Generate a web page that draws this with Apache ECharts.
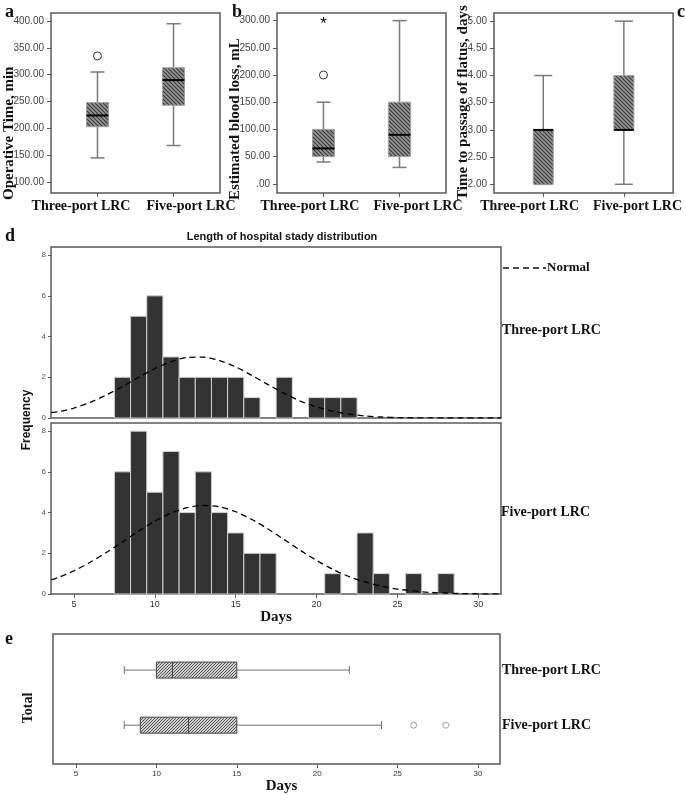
<!DOCTYPE html>
<html><head><meta charset="utf-8">
<script src="https://cdn.jsdelivr.net/npm/echarts@6/dist/echarts.min.js"></script>
<style>html,body{margin:0;padding:0;background:#fff}#c{width:685px;height:795px}</style>
</head><body><div id="c"></div>
<script>
// ---------------- DATA ----------------
const groups = ['Three-port LRC', 'Five-port LRC'];
// box stats: [min, Q1, median, Q3, max]
const opTimeBox = [[145, 203, 224, 248, 305], [168, 243, 290, 313, 395]];
const opTimeOutliers = [[0, 335]];            // [group index, value] circles
const bloodBox = [[40, 50, 65, 100, 150], [30, 50, 90, 150, 300]];
const bloodOutliers = [[0, 200]];
const bloodExtremes = [[0, 300]];             // asterisk
const flatusBox = [[2, 2, 3, 3, 4], [2, 3, 3, 4, 5]];
const opTimeTicks = [100, 150, 200, 250, 300, 350, 400];
const bloodTicks = [0, 50, 100, 150, 200, 250, 300];
const flatusTicks = [2, 2.5, 3, 3.5, 4, 4.5, 5];

const days = [8, 9, 10, 11, 12, 13, 14, 15, 16, 17, 18, 19, 20, 21, 22, 23, 24, 25, 26, 27, 28];
const threeCounts = [2, 5, 6, 3, 2, 2, 2, 2, 1, 0, 2, 0, 1, 1, 1, 0, 0, 0, 0, 0, 0];
const fiveCounts  = [6, 8, 5, 7, 4, 6, 4, 3, 2, 2, 0, 0, 0, 1, 0, 3, 1, 0, 1, 0, 1];
const normalX = [3.6, 4, 5, 6, 7, 8, 9, 10, 11, 12, 13, 14, 15, 16, 17, 18, 19, 20, 21, 22, 23, 24, 25, 26, 27, 28, 29, 30, 31, 31.4];
const threeNormal = [0.26, 0.30, 0.49, 0.77, 1.13, 1.55, 2.00, 2.43, 2.77, 2.97, 2.99, 2.82, 2.51, 2.09, 1.64, 1.21, 0.83, 0.54, 0.33, 0.19, 0.10, 0.05, 0.02, 0.01, 0.005, 0, 0, 0, 0, 0];
const fiveNormal  = [0.69, 0.80, 1.14, 1.56, 2.04, 2.56, 3.09, 3.58, 3.98, 4.24, 4.35, 4.28, 4.04, 3.66, 3.19, 2.67, 2.14, 1.65, 1.21, 0.86, 0.59, 0.39, 0.24, 0.15, 0.08, 0.045, 0.02, 0.01, 0.005, 0.004];
const dayTicks = [5, 10, 15, 20, 25, 30];
const freqTicks = [0, 2, 4, 6, 8];

const losBox = [[8, 10, 11, 15, 22], [8, 9, 12, 15, 24]];
const losOutliers = [[1, 26], [1, 28]];       // [group index, value]

// ---------------- LAYOUT CONSTANTS ----------------
const catPos = [0.55, 1.45];
const labelPosA = [0.355, 1.657], labelPosB = [0.39, 1.669], labelPosC = [0.398, 1.602];
const SERIF = '"Liberation Serif", "Times New Roman", serif';
const SANS = '"Liberation Sans", Arial, sans-serif';

function makePattern(size, bg, fg, lw, dir) {
  const cv = document.createElement('canvas');
  cv.width = size; cv.height = size;
  const g = cv.getContext('2d');
  g.fillStyle = bg; g.fillRect(0, 0, size, size);
  g.strokeStyle = fg; g.lineWidth = lw;
  g.beginPath();
  for (let k = -1; k <= 1; k++) {
    if (dir === 'back') { g.moveTo(k * size - 1, -1); g.lineTo(k * size + size + 1, size + 1); }
    else { g.moveTo(k * size - 1, size + 1); g.lineTo(k * size + size + 1, -1); }
  }
  g.stroke();
  return { image: cv, repeat: 'repeat' };
}
const patABC = makePattern(4, '#959595', '#383838', 1.1, 'back');
const patE = makePattern(3, '#cfcfcf', '#4a4a4a', 0.9, 'fwd');

function vBox(halfW, capHalf) {
  return function (params, api) {
    const x = api.value(0);
    const p = i => api.coord([x, api.value(i)]);
    const mn = p(1), q1 = p(2), md = p(3), q3 = p(4), mx = p(5);
    const cx = mn[0];
    const ws = { stroke: '#7a7a7a', lineWidth: 1.5 };
    return { type: 'group', children: [
      { type: 'line', shape: { x1: cx, y1: mx[1], x2: cx, y2: q3[1] }, style: ws },
      { type: 'line', shape: { x1: cx, y1: q1[1], x2: cx, y2: mn[1] }, style: ws },
      { type: 'line', shape: { x1: cx - capHalf, y1: mx[1], x2: cx + capHalf, y2: mx[1] }, style: ws },
      { type: 'line', shape: { x1: cx - capHalf, y1: mn[1], x2: cx + capHalf, y2: mn[1] }, style: ws },
      { type: 'rect', shape: { x: cx - halfW, y: q3[1], width: 2 * halfW, height: q1[1] - q3[1] }, style: { fill: patABC, stroke: '#a0a0a0', lineWidth: 1 } },
      { type: 'line', shape: { x1: cx - halfW, y1: md[1], x2: cx + halfW, y2: md[1] }, style: { stroke: '#000', lineWidth: 2 } }
    ] };
  };
}
function hBox(halfH, capHalf) {
  return function (params, api) {
    const y = api.value(0);
    const p = i => api.coord([api.value(i), y]);
    const mn = p(1), q1 = p(2), md = p(3), q3 = p(4), mx = p(5);
    const cy = mn[1];
    const ws = { stroke: '#707070', lineWidth: 1 };
    return { type: 'group', children: [
      { type: 'line', shape: { x1: mn[0], y1: cy, x2: q1[0], y2: cy }, style: ws },
      { type: 'line', shape: { x1: q3[0], y1: cy, x2: mx[0], y2: cy }, style: ws },
      { type: 'line', shape: { x1: mn[0], y1: cy - capHalf, x2: mn[0], y2: cy + capHalf }, style: ws },
      { type: 'line', shape: { x1: mx[0], y1: cy - capHalf, x2: mx[0], y2: cy + capHalf }, style: ws },
      { type: 'rect', shape: { x: q1[0], y: cy - halfH, width: q3[0] - q1[0], height: 2 * halfH }, style: { fill: patE, stroke: '#444', lineWidth: 1 } },
      { type: 'line', shape: { x1: md[0], y1: cy - halfH, x2: md[0], y2: cy + halfH }, style: { stroke: '#444', lineWidth: 1 } }
    ] };
  };
}
function histBar(params, api) {
  const d = api.value(0), c = api.value(1);
  if (!c) return;
  const p1 = api.coord([d - 0.5, c]), p2 = api.coord([d + 0.5, 0]);
  return { type: 'rect', shape: { x: p1[0], y: p1[1], width: p2[0] - p1[0], height: p2[1] - p1[1] }, style: { fill: '#333', stroke: '#d0d0d0', lineWidth: 1 } };
}
function asterisk(params, api) {
  const p = api.coord([api.value(0), api.value(1)]);
  return { type: 'text', x: p[0], y: p[1] + 4, style: { text: '*', fontSize: 17, fontFamily: SANS, fill: '#000', align: 'center', verticalAlign: 'middle' } };
}

const boxData = arr => arr.map((b, i) => [catPos[i], ...b]);
const ptData = arr => arr.map(o => [catPos[o[0]], o[1]]);
const noLine = { show: false, onZero: false };

function catXAxis(gi, labelPos) {
  return { type: 'value', gridIndex: gi, min: 0, max: 2, splitLine: { show: false }, axisLine: noLine,
    axisTick: { show: true, customValues: catPos, length: 4, lineStyle: { color: '#555', width: 1 } },
    axisLabel: { customValues: labelPos, margin: 6, fontFamily: SERIF, fontWeight: 'bold', fontSize: 14, color: '#111',
      formatter: v => v < 1 ? groups[0] : groups[1] } };
}
function valYAxis(gi, min, max, ticks, fmt) {
  return { type: 'value', gridIndex: gi, min: min, max: max, splitLine: { show: false }, axisLine: noLine,
    axisTick: { show: true, customValues: ticks, length: 4, lineStyle: { color: '#555', width: 1 } },
    axisLabel: { customValues: ticks, margin: 7, fontFamily: SANS, fontSize: 10, color: '#444', formatter: fmt } };
}
const frame = { show: true, borderColor: '#5a5a5a', borderWidth: 1.5, backgroundColor: 'transparent' };

const option = {
  animation: false,
  backgroundColor: '#fff',
  grid: [
    Object.assign({ left: 51, top: 13, width: 169, height: 180 }, frame),
    Object.assign({ left: 277, top: 13, width: 169, height: 180 }, frame),
    Object.assign({ left: 494, top: 13, width: 181, height: 180 }, frame),
    Object.assign({ left: 51, top: 247, width: 450, height: 171 }, frame),
    Object.assign({ left: 51, top: 423, width: 450, height: 171 }, frame),
    Object.assign({ left: 53, top: 634, width: 447, height: 137 }, frame)
  ],
  xAxis: [
    catXAxis(0, labelPosA), catXAxis(1, labelPosB), catXAxis(2, labelPosC),
    { type: 'value', gridIndex: 3, min: 3.58, max: 31.4, splitLine: { show: false }, axisLine: noLine, axisTick: { show: false }, axisLabel: { show: false } },
    { type: 'value', gridIndex: 4, min: 3.58, max: 31.4, splitLine: { show: false }, axisLine: noLine,
      axisTick: { show: true, customValues: dayTicks, length: 4, lineStyle: { color: '#555' } },
      axisLabel: { customValues: dayTicks, margin: 6, fontFamily: SANS, fontSize: 9, color: '#333' },
      name: 'Days', nameLocation: 'middle', nameGap: 10, nameTextStyle: { fontFamily: SERIF, fontWeight: 'bold', fontSize: 15, color: '#111' } },
    { type: 'value', gridIndex: 5, min: 3.57, max: 31.37, splitLine: { show: false }, axisLine: noLine,
      axisTick: { show: true, customValues: dayTicks, length: 4, lineStyle: { color: '#555' } },
      axisLabel: { customValues: dayTicks, margin: 6, fontFamily: SANS, fontSize: 8, color: '#333' },
      name: 'Days', nameLocation: 'middle', nameGap: 9, nameTextStyle: { fontFamily: SERIF, fontWeight: 'bold', fontSize: 15, color: '#111', padding: [0, 0, 0, 10] } }
  ],
  yAxis: [
    valYAxis(0, 79.5, 415, opTimeTicks, v => v.toFixed(2)),
    valYAxis(1, -17, 314, bloodTicks, v => v === 0 ? '.00' : v.toFixed(2)),
    valYAxis(2, 1.84, 5.15, flatusTicks, v => v.toFixed(2)),
    { type: 'value', gridIndex: 3, min: 0, max: 8.4, splitLine: { show: false }, axisLine: noLine,
      axisTick: { show: true, customValues: freqTicks, length: 3, lineStyle: { color: '#555' } },
      axisLabel: { customValues: freqTicks, margin: 5, fontFamily: SANS, fontSize: 8, color: '#555' } },
    { type: 'value', gridIndex: 4, min: 0, max: 8.4, splitLine: { show: false }, axisLine: noLine,
      axisTick: { show: true, customValues: freqTicks, length: 3, lineStyle: { color: '#555' } },
      axisLabel: { customValues: freqTicks, margin: 5, fontFamily: SANS, fontSize: 8, color: '#555' } },
    { type: 'value', gridIndex: 5, position: 'right', inverse: true, min: -0.655, max: 1.707, splitLine: { show: false }, axisLine: noLine,
      axisTick: { show: false },
      axisLabel: { customValues: [0, 1], margin: 2, fontFamily: SERIF, fontWeight: 'bold', fontSize: 14, color: '#111', formatter: v => groups[Math.round(v)] } }
  ],
  series: [
    { type: 'custom', xAxisIndex: 0, yAxisIndex: 0, renderItem: vBox(11, 7), data: boxData(opTimeBox), encode: { x: 0, y: [1, 2, 3, 4, 5] } },
    { type: 'scatter', xAxisIndex: 0, yAxisIndex: 0, symbol: 'circle', symbolSize: 8, itemStyle: { color: '#fff', borderColor: '#000', borderWidth: 1 }, data: ptData(opTimeOutliers) },
    { type: 'custom', xAxisIndex: 1, yAxisIndex: 1, renderItem: vBox(11, 7), data: boxData(bloodBox), encode: { x: 0, y: [1, 2, 3, 4, 5] } },
    { type: 'scatter', xAxisIndex: 1, yAxisIndex: 1, symbol: 'circle', symbolSize: 8, itemStyle: { color: '#fff', borderColor: '#000', borderWidth: 1 }, data: ptData(bloodOutliers) },
    { type: 'custom', xAxisIndex: 1, yAxisIndex: 1, renderItem: asterisk, data: ptData(bloodExtremes) },
    { type: 'custom', xAxisIndex: 2, yAxisIndex: 2, renderItem: vBox(10, 9), data: boxData(flatusBox), encode: { x: 0, y: [1, 2, 3, 4, 5] } },
    { type: 'custom', xAxisIndex: 3, yAxisIndex: 3, renderItem: histBar, data: days.map((d, i) => [d, threeCounts[i]]), encode: { x: 0, y: 1 } },
    { type: 'line', xAxisIndex: 3, yAxisIndex: 3, symbol: 'none', smooth: 0.3, z: 5, lineStyle: { color: '#000', width: 1.3, type: [6, 4] }, data: normalX.map((x, i) => [x, threeNormal[i]]) },
    { type: 'custom', xAxisIndex: 4, yAxisIndex: 4, renderItem: histBar, data: days.map((d, i) => [d, fiveCounts[i]]), encode: { x: 0, y: 1 } },
    { type: 'line', xAxisIndex: 4, yAxisIndex: 4, symbol: 'none', smooth: 0.3, z: 5, lineStyle: { color: '#000', width: 1.3, type: [6, 4] }, data: normalX.map((x, i) => [x, fiveNormal[i]]) },
    { type: 'custom', xAxisIndex: 5, yAxisIndex: 5, renderItem: hBox(8, 4), data: losBox.map((b, i) => [i, ...b]), encode: { x: [1, 2, 3, 4, 5], y: 0 } },
    { type: 'scatter', xAxisIndex: 5, yAxisIndex: 5, symbol: 'circle', symbolSize: 6, itemStyle: { color: '#fff', borderColor: '#888', borderWidth: 1 }, data: losOutliers.map(o => [o[1], o[0]]) }
  ],
  graphic: [
    { type: 'text', left: 5, top: 3, style: { text: 'a', font: 'bold 18px ' + SERIF, fill: '#111' } },
    { type: 'text', left: 232, top: 3, style: { text: 'b', font: 'bold 18px ' + SERIF, fill: '#111' } },
    { type: 'text', left: 677, top: 3, style: { text: 'c', font: 'bold 18px ' + SERIF, fill: '#111' } },
    { type: 'text', left: 5, top: 227, style: { text: 'd', font: 'bold 18px ' + SERIF, fill: '#111' } },
    { type: 'text', left: 5, top: 630, style: { text: 'e', font: 'bold 18px ' + SERIF, fill: '#111' } },
    { type: 'text', x: 9, y: 200, rotation: Math.PI / 2, style: { text: 'Operative Time, min', font: 'bold 15px ' + SERIF, fill: '#111', align: 'left', verticalAlign: 'middle' } },
    { type: 'text', x: 235, y: 200, rotation: Math.PI / 2, style: { text: 'Estimated blood loss, mL', font: 'bold 15px ' + SERIF, fill: '#111', align: 'left', verticalAlign: 'middle' } },
    { type: 'text', x: 463, y: 200, rotation: Math.PI / 2, style: { text: 'Time to passage of flatus, days', font: 'bold 15px ' + SERIF, fill: '#111', align: 'left', verticalAlign: 'middle' } },
    { type: 'text', x: 282, y: 237, style: { text: 'Length of hospital stady distribution', font: 'bold 11px ' + SANS, fill: '#111', align: 'center', verticalAlign: 'middle' } },
    { type: 'text', x: 27, y: 420, rotation: Math.PI / 2, style: { text: 'Frequency', font: 'bold 12px ' + SANS, fill: '#111', align: 'center', verticalAlign: 'middle' } },
    { type: 'line', shape: { x1: 503, y1: 268, x2: 546, y2: 268 }, style: { stroke: '#111', lineWidth: 1.5, lineDash: [6, 4] } },
    { type: 'text', x: 547, y: 268, style: { text: 'Normal', font: 'bold 13px ' + SERIF, fill: '#111', align: 'left', verticalAlign: 'middle' } },
    { type: 'text', x: 502, y: 330, style: { text: 'Three-port LRC', font: 'bold 14px ' + SERIF, fill: '#111', align: 'left', verticalAlign: 'middle' } },
    { type: 'text', x: 501, y: 512, style: { text: 'Five-port LRC', font: 'bold 14px ' + SERIF, fill: '#111', align: 'left', verticalAlign: 'middle' } },
    { type: 'text', x: 28, y: 708, rotation: Math.PI / 2, style: { text: 'Total', font: 'bold 14px ' + SERIF, fill: '#111', align: 'center', verticalAlign: 'middle' } }
  ]
};
const chart = echarts.init(document.getElementById('c'), null, { renderer: 'canvas' });
chart.setOption(option);
</script>
</body></html>
